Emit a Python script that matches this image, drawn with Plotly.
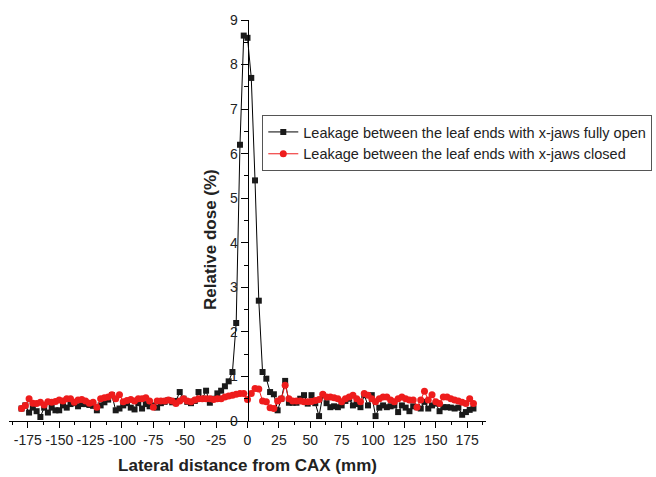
import plotly.graph_objects as go

x_mm = list(range(-180, 181, 3))

open_jaws = [
    0.28, 0.35, 0.19, 0.30, 0.22, 0.09, 0.30, 0.19, 0.30, 0.24,
    0.24, 0.35, 0.30, 0.38, 0.40, 0.33, 0.38, 0.38, 0.36, 0.34,
    0.24, 0.35, 0.42, 0.48, 0.58, 0.24, 0.28, 0.35, 0.40, 0.30,
    0.26, 0.40, 0.28, 0.38, 0.33, 0.35, 0.30, 0.40, 0.43, 0.47,
    0.42, 0.45, 0.65, 0.50, 0.43, 0.40, 0.45, 0.65, 0.50, 0.68,
    0.41, 0.50, 0.62, 0.68, 0.78, 0.89, 1.10, 2.20, 6.20, 8.65,
    8.60, 7.70, 5.40, 2.70, 1.10, 0.95, 0.65, 0.60, 0.24, 0.50,
    0.90, 0.41, 0.41, 0.41, 0.50, 0.58, 0.39, 0.58, 0.40, 0.11,
    0.58, 0.40, 0.31, 0.33, 0.31, 0.35, 0.45, 0.50, 0.35, 0.38,
    0.31, 0.58, 0.35, 0.58, 0.11, 0.30, 0.35, 0.31, 0.33, 0.35,
    0.20, 0.35, 0.30, 0.22, 0.33, 0.31, 0.28, 0.43, 0.28, 0.35,
    0.39, 0.22, 0.31, 0.31, 0.30, 0.28, 0.30, 0.14, 0.20, 0.25,
    0.28,
]

closed_jaws = [
    0.28, 0.35, 0.50, 0.40, 0.39, 0.42, 0.36, 0.43, 0.42, 0.44,
    0.47, 0.45, 0.50, 0.50, 0.42, 0.47, 0.48, 0.45, 0.40, 0.42,
    0.31, 0.50, 0.52, 0.54, 0.59, 0.50, 0.59, 0.43, 0.46, 0.48,
    0.45, 0.50, 0.50, 0.52, 0.45, 0.31, 0.45, 0.45, 0.45, 0.47,
    0.45, 0.39, 0.45, 0.50, 0.45, 0.43, 0.47, 0.50, 0.50, 0.50,
    0.50, 0.48, 0.50, 0.50, 0.54, 0.56, 0.58, 0.60, 0.62, 0.62,
    0.48, 0.62, 0.73, 0.72, 0.45, 0.43, 0.30, 0.28, 0.45, 0.50,
    0.80, 0.50, 0.45, 0.45, 0.45, 0.43, 0.43, 0.44, 0.46, 0.48,
    0.60, 0.54, 0.54, 0.52, 0.50, 0.43, 0.50, 0.54, 0.58, 0.50,
    0.43, 0.62, 0.58, 0.50, 0.43, 0.50, 0.54, 0.54, 0.47, 0.43,
    0.50, 0.54, 0.50, 0.47, 0.47, 0.31, 0.47, 0.67, 0.47, 0.59,
    0.43, 0.39, 0.54, 0.54, 0.50, 0.47, 0.45, 0.42, 0.39, 0.50,
    0.39,
]

x_ticks = list(range(-175, 176, 25))
y_ticks = list(range(0, 10))

FONT = "Arial, Liberation Sans, Helvetica, sans-serif"
TXT = "#222"

fig = go.Figure()
fig.add_trace(go.Scatter(
    x=x_mm, y=open_jaws, mode="lines+markers",
    name="Leakage between the leaf ends with x-jaws fully open",
    line=dict(color="black", width=1),
    marker=dict(symbol="square", size=6, color="#1a1a1a"),
))
fig.add_trace(go.Scatter(
    x=x_mm, y=closed_jaws, mode="lines+markers",
    name="Leakage between the leaf ends with x-jaws closed",
    line=dict(color="#ee1c1c", width=1),
    marker=dict(symbol="circle", size=7, color="#ee1c1c"),
))

fig.update_layout(
    width=656, height=477,
    margin=dict(l=9, r=170, t=20, b=56, autoexpand=False),
    paper_bgcolor="white", plot_bgcolor="white",
    font=dict(family=FONT, color=TXT, size=14),
    showlegend=True,
    legend=dict(
        x=0.531, y=(421 - 115) / 401, xanchor="left", yanchor="top",
        bgcolor="white", bordercolor="#555", borderwidth=1,
        font=dict(size=14.5, family=FONT, color=TXT),
        tracegroupgap=0,
    ),
    xaxis=dict(
        range=[-190, 190], showgrid=False, zeroline=False,
        showline=True, linecolor="black", linewidth=1,
        ticks="outside", ticklen=6, tickcolor="black",
        tickvals=x_ticks, ticktext=[str(v) for v in x_ticks],
        tickangle=0, automargin=False,
        minor=dict(dtick=12.5, tick0=-187.5, ticks="outside", ticklen=3, tickcolor="black"),
        tickfont=dict(size=14, family=FONT, color=TXT),
        title=dict(text="<b>Lateral distance from CAX (mm)</b>",
                   font=dict(size=17, family=FONT, color=TXT), standoff=12),
        anchor="y",
    ),
    yaxis=dict(
        range=[0, 9], showgrid=False, zeroline=False,
        showline=True, linecolor="black", linewidth=1,
        ticks="outside", ticklen=7, tickcolor="black",
        tickvals=y_ticks, ticktext=[str(v) for v in y_ticks],
        automargin=False,
        minor=dict(dtick=0.5, ticks="outside", ticklen=4, tickcolor="black"),
        tickfont=dict(size=14, family=FONT, color=TXT),
        anchor="free", position=0.5,
    ),
    annotations=[dict(
        text="<b>Relative dose (%)</b>", xref="paper", yref="paper",
        x=(210 - 9) / 477, y=(421 - 240) / 401, xanchor="center", yanchor="middle",
        textangle=-90, showarrow=False,
        font=dict(size=17, family=FONT, color=TXT),
    )],
)

fig.write_html("out.html")
